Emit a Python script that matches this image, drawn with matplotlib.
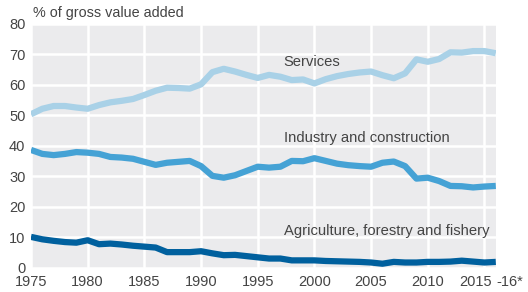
import matplotlib
matplotlib.use("Agg")
from matplotlib import pyplot as plt
from matplotlib import transforms

plt.rcParams['font.family'] = ['Liberation Sans', 'DejaVu Sans']

years = list(range(1975, 2017))

services = [50.4, 52.2, 53.1, 53.1, 52.6, 52.2, 53.4, 54.3, 54.8, 55.4,
            56.7, 58.1, 59.1, 59.0, 58.8, 60.2, 64.2, 65.3, 64.4, 63.3,
            62.3, 63.3, 62.7, 61.6, 61.8, 60.5, 61.9, 62.9, 63.6, 64.1,
            64.4, 63.2, 62.2, 63.8, 68.4, 67.6, 68.5, 70.7, 70.6, 71.1,
            71.1, 70.4]

industry = [38.7, 37.4, 37.0, 37.4, 38.0, 37.8, 37.4, 36.4, 36.2, 35.8,
            34.8, 33.8, 34.5, 34.8, 35.1, 33.4, 30.2, 29.6, 30.4, 31.8,
            33.2, 32.9, 33.2, 35.1, 35.0, 36.0, 35.1, 34.2, 33.7, 33.4,
            33.2, 34.5, 34.9, 33.4, 29.3, 29.6, 28.5, 26.9, 26.8, 26.4,
            26.7, 26.9]

agriculture = [10.2, 9.4, 8.9, 8.5, 8.3, 9.1, 7.8, 8.0, 7.7, 7.3,
               7.0, 6.7, 5.2, 5.2, 5.2, 5.5, 4.8, 4.2, 4.3, 3.9,
               3.5, 3.1, 3.1, 2.5, 2.5, 2.5, 2.3, 2.2, 2.1, 2.0,
               1.8, 1.4, 2.0, 1.8, 1.8, 2.0, 2.0, 2.1, 2.4, 2.1,
               1.8, 2.0]

fig = plt.figure(figsize=(5.28, 2.92), dpi=100)
ax = fig.add_axes([0.0587, 0.0822, 0.8803, 0.8358])
ax.set_facecolor('#ebebed')

ax.plot(years, services, color='#a9d1e7', lw=4.5, solid_capstyle='butt', zorder=3)
ax.plot(years, industry, color='#45a2d5', lw=4.5, solid_capstyle='butt', zorder=3)
ax.plot(years, agriculture, color='#00609e', lw=4.5, solid_capstyle='butt', zorder=3)

ax.set_xlim(1975, 2016)
ax.set_ylim(0, 80)
ax.set_xticks(range(1975, 2016, 5))
ax.set_yticks(range(0, 81, 10))
ax.grid(True, color='white', lw=1.8)
ax.set_axisbelow(True)
for s in ax.spines.values():
    s.set_visible(False)
ax.tick_params(length=0, labelsize=10.5, colors='#444444')
ax.tick_params(axis='x', pad=5)
ax.tick_params(axis='y', pad=4)

# nudge the 2015 label left to leave room for "-16*"
lab = ax.get_xticklabels()[-1]
lab.set_transform(lab.get_transform() + transforms.ScaledTranslation(-0.09, 0, fig.dpi_scale_trans))

ax.text(1997.3, 67.5, 'Services', fontsize=10.6, color='#444444', va='center')
ax.text(1997.3, 42.6, 'Industry and construction', fontsize=10.6, color='#444444', va='center')
ax.text(1997.3, 12.1, 'Agriculture, forestry and fishery', fontsize=10.6, color='#444444', va='center')

fig.text(0.0625, 0.955, '% of gross value added', fontsize=10.4, color='#444444', va='center')
fig.text(496 / 528, 1 - 282 / 292, '-16*', fontsize=10.5, color='#444444', va='center', ha='left')

fig.savefig('out.png', dpi=100)
